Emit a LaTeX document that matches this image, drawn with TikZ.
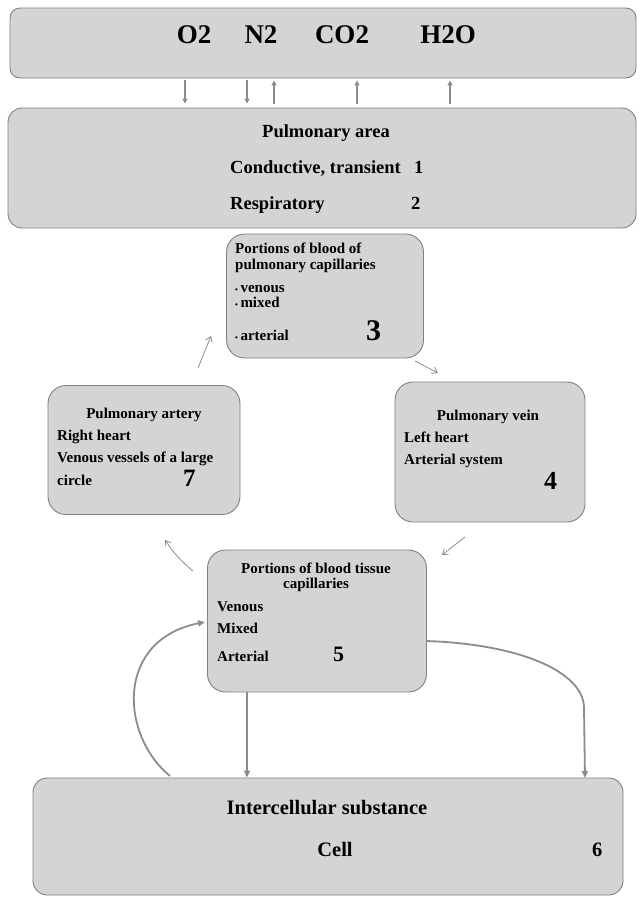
\documentclass[tikz,border=0pt]{standalone}
\usepackage{fontspec}
\setmainfont{Liberation Serif}
\usetikzlibrary{arrows.meta}
\definecolor{boxfill}{HTML}{D4D4D4}
\definecolor{boxline}{HTML}{808080}
\definecolor{arrcol}{HTML}{8C8C8C}
\begin{document}
\begin{tikzpicture}[x=1pt,y=-1pt,
  box/.style={draw=boxline, fill=boxfill, line width=0.9pt, rounded corners=#1, inner sep=0pt},
  box/.default=18pt,
  txt/.style={inner sep=0pt, font=\bfseries\fontsize{#1}{#1}\selectfont},
  txt/.default=15,
  thinarr/.style={draw=arrcol, line width=0.8pt, -{Straight Barb[length=5pt,width=7pt]}},
  thickarr/.style={draw=arrcol, line width=1.8pt, -{Triangle[length=7pt,width=6pt]}},
  gasarr/.style={draw=arrcol, line width=1.5pt, -{Triangle[length=5pt,width=5pt]}}]
\useasboundingbox (0,0) rectangle (640,898);

% boxes
\node[box=10pt, minimum width=626pt, minimum height=70pt] (top) at (323,43) {};
\node[box=14pt, minimum width=628pt, minimum height=120pt] (pulm) at (322,168) {};
\node[box, minimum width=197pt, minimum height=124pt] (cap) at (325,296) {};
\node[box, minimum width=192pt, minimum height=129pt] (art) at (144,450) {};
\node[box, minimum width=190pt, minimum height=140pt] (vein) at (490,452) {};
\node[box, minimum width=219pt, minimum height=142pt] (tis) at (317,621) {};
\node[box=14pt, minimum width=590pt, minimum height=117pt] (cell) at (328,836.5) {};

% top gases
\node[txt=27, anchor=base] (o2) at (194,43) {O2};
\node[txt=27, anchor=base] (n2) at (261,43) {N2};
\node[txt=27, anchor=base] (co2) at (342,43) {CO2};
\node[txt=27, anchor=base] (h2o) at (448,43) {H2O};

\coordinate (xo2) at (185,0);
\coordinate (xn2a) at (247,0);
\coordinate (xn2b) at (274,0);
\coordinate (xco2) at (357,0);
\coordinate (xh2o) at (450,0);
\draw[gasarr, shorten <=2pt, shorten >=4pt] (top.south -| xo2) -- (pulm.north -| xo2);
\draw[gasarr, shorten <=2pt, shorten >=4pt] (top.south -| xn2a) -- (pulm.north -| xn2a);
\draw[gasarr, shorten <=4pt, shorten >=2pt] (pulm.north -| xn2b) -- (top.south -| xn2b);
\draw[gasarr, shorten <=4pt, shorten >=2pt] (pulm.north -| xco2) -- (top.south -| xco2);
\draw[gasarr, shorten <=4pt, shorten >=2pt] (pulm.north -| xh2o) -- (top.south -| xh2o);

% pulmonary area
\node[txt=18.5, anchor=base] (pa) at (326,137) {Pulmonary area};
\node[txt=18.5, anchor=base west] (cond) at (230,173) {Conductive, transient};
\node[txt=18.5, anchor=base west] (n1) at (414,173) {1};
\node[txt=18.5, anchor=base west] (resp) at (230,209) {Respiratory};
\node[txt=18.5, anchor=base west] (n2n) at (411,209) {2};

% capillaries 3
\node[txt=15, anchor=base west] (c1) at (235,253) {Portions of blood of};
\node[txt=15, anchor=base west] (c2) at (235,269) {pulmonary capillaries};
\node[txt=15, anchor=base west] (c3) at (235,292) {{\fontsize{8}{8}\selectfont\textbullet}\,venous};
\node[txt=15, anchor=base west] (c4) at (235,307) {{\fontsize{8}{8}\selectfont\textbullet}\,mixed};
\node[txt=15, anchor=base west] (c5) at (235,340) {{\fontsize{8}{8}\selectfont\textbullet}\,arterial};
\node[txt=30, anchor=base west] (n3) at (366,340) {3};

% pulmonary artery 7
\node[txt=15, anchor=base] (a1) at (144,418) {Pulmonary artery};
\node[txt=15, anchor=base west] (a2) at (57,440) {Right heart};
\node[txt=15, anchor=base west] (a3) at (57,462) {Venous vessels of a large};
\node[txt=15, anchor=base west] (a4) at (57,485) {circle};
\node[txt=25, anchor=base west] (n7) at (183,486) {7};

% pulmonary vein 4
\node[txt=15, anchor=base] (v1) at (488,420) {Pulmonary vein};
\node[txt=15, anchor=base west] (v2) at (404,442) {Left heart};
\node[txt=15, anchor=base west] (v3) at (404,464) {Arterial system};
\node[txt=26, anchor=base west] (n4) at (544,489) {4};

% tissue capillaries 5
\node[txt=15, anchor=base] (t1) at (316,573) {Portions of blood tissue};
\node[txt=15, anchor=base] (t2) at (316,588) {capillaries};
\node[txt=15, anchor=base west] (t3) at (217,611) {Venous};
\node[txt=15, anchor=base west] (t4) at (217,633) {Mixed};
\node[txt=15, anchor=base west] (t5) at (217,661) {Arterial};
\node[txt=22, anchor=base west] (n5) at (333,661) {5};

% cell 6
\node[txt=20.5, anchor=base] (i1) at (327,814) {Intercellular substance};
\node[txt=20.5, anchor=base] (i2) at (335,856) {Cell};
\node[txt=20.5, anchor=base west] (n6) at (592,856) {6};

% cycle arrows
\coordinate (p7a) at (198,368);
\coordinate (p3a) at (211,336);
\coordinate (p3b) at (415,361);
\coordinate (p4a) at (438,373);
\coordinate (p4b) at (465,537);
\coordinate (p5a) at (442,555);
\coordinate (p5b) at (193,571);
\coordinate (p7b) at (165,540);
\draw[thinarr] (p7a) -- (p3a);
\draw[thinarr] (p3b) -- (p4a);
\draw[thinarr] (p4b) -- (p5a);
\draw[thinarr] (p5b) to[bend left=8] (p7b);

% thick arrows
\draw[thickarr] (tis.south -| xn2a) -- (cell.north -| xn2a);
\coordinate (rs) at (426,641);
\coordinate (re) at (585,778);
\draw[thickarr] (rs) .. controls (520,644) and (584,672) .. (584,708) -- (re);
\coordinate (ls) at (170,776);
\coordinate (le) at (205,622);
\draw[thickarr] (ls) .. controls (120,735) and (115,640) .. (le);
\end{tikzpicture}
\end{document}
